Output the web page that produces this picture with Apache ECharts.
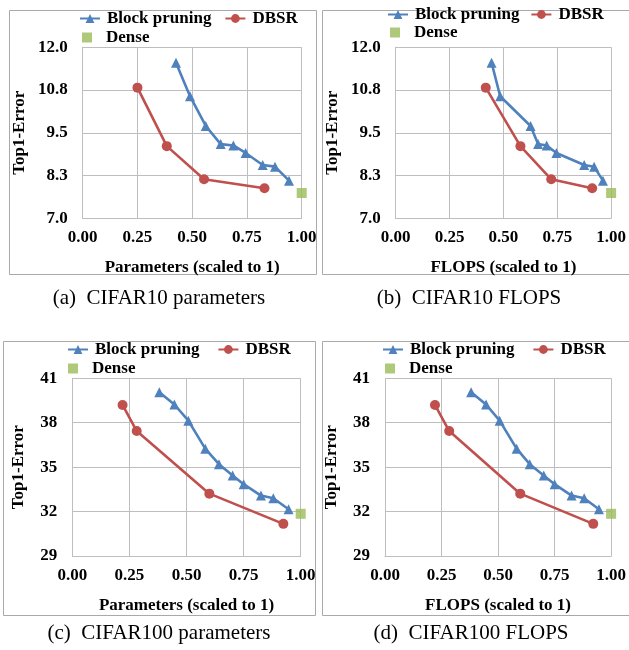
<!DOCTYPE html>
<html>
<head>
<meta charset="utf-8">
<script src="https://cdn.jsdelivr.net/npm/echarts@6/dist/echarts.min.js"></script>
<style>
  html, body { margin: 0; padding: 0; background: #fff; }
  #main { width: 629px; height: 650px; }
</style>
</head>
<body>
<div id="main"></div>
<script>
// top1 error values (shared by params / FLOPS panels)
const cifar10BlockErr = [11.55, 10.57, 9.70, 9.17, 9.13, 8.91, 8.56, 8.51, 8.10];
const cifar10DbsrErr = [10.82, 9.11, 8.14, 7.88];
const cifar10DenseErr = [7.74];
const cifar100BlockErr = [40.06, 39.23, 38.14, 36.25, 35.20, 34.44, 33.85, 33.08, 32.90, 32.16];
const cifar100DbsrErr = [39.20, 37.44, 33.21, 31.17];
const cifar100DenseErr = [31.85];

// x values (scaled to 1)
const c10ParamBlockX = [0.426, 0.490, 0.562, 0.630, 0.688, 0.744, 0.822, 0.878, 0.942];
const c10ParamDbsrX = [0.250, 0.384, 0.554, 0.830];
const c10FlopsBlockX = [0.445, 0.485, 0.626, 0.661, 0.701, 0.746, 0.875, 0.921, 0.962];
const c10FlopsDbsrX = [0.418, 0.579, 0.722, 0.912];
const c100ParamBlockX = [0.381, 0.447, 0.508, 0.582, 0.642, 0.702, 0.750, 0.826, 0.880, 0.947];
const c100ParamDbsrX = [0.220, 0.282, 0.600, 0.924];
const c100FlopsBlockX = [0.381, 0.447, 0.507, 0.582, 0.640, 0.702, 0.750, 0.825, 0.881, 0.946];
const c100FlopsDbsrX = [0.221, 0.284, 0.598, 0.921];
const denseX = [1.0];

const xTicks = ['0.00', '0.25', '0.50', '0.75', '1.00'];
const cifar10Ticks = ['7.0', '8.3', '9.5', '10.8', '12.0'];
const cifar100Ticks = ['29', '32', '35', '38', '41'];

const captions = ['(a)  CIFAR10 parameters', '(b)  CIFAR10 FLOPS', '(c)  CIFAR100 parameters', '(d)  CIFAR100 FLOPS'];
const xTitles = ['Parameters (scaled to 1)', 'FLOPS (scaled to 1)', 'Parameters (scaled to 1)', 'FLOPS (scaled to 1)'];

const blueColor = '#4f81bd';
const redColor = '#c0504d';
const greenColor = '#9bbb59';
const gridColor = '#bebebe';
const serif = 'Liberation Serif';

function pairs(xs, ys) {
  return xs.map(function (x, i) { return [x, ys[i]]; });
}

var dom = document.getElementById('main');
var myChart = echarts.init(dom, null, { renderer: 'canvas' });

var grids = [
  { left: 82.7, top: 47.3, width: 219, height: 171 },
  { left: 395.7, top: 47.3, width: 219.3, height: 171 },
  { left: 72.3, top: 378.3, width: 228.4, height: 177.7 },
  { left: 385, top: 378.3, width: 229, height: 177.7 }
];

var xAxes = grids.map(function (g, i) {
  return {
    gridIndex: i,
    type: 'value',
    min: 0,
    max: 1,
    interval: 0.25,
    name: xTitles[i],
    nameLocation: 'middle',
    nameGap: 41,
    nameTextStyle: { fontFamily: serif, fontWeight: 'bold', fontSize: 17, color: '#000' },
    axisLine: { show: true, lineStyle: { color: gridColor, width: 1 } },
    axisTick: { show: false },
    axisLabel: {
      fontFamily: serif, fontWeight: 'bold', fontSize: 17, color: '#000', margin: 11,
      formatter: function (v) { return xTicks[Math.round(v / 0.25)]; }
    },
    splitLine: { show: true, lineStyle: { color: gridColor, width: 1 } }
  };
});

var yAxes = grids.map(function (g, i) {
  var c10 = i < 2;
  return {
    gridIndex: i,
    type: 'value',
    min: c10 ? 7 : 29,
    max: c10 ? 12 : 41,
    interval: c10 ? 1.25 : 3,
    name: 'Top1-Error',
    nameLocation: 'middle',
    nameGap: c10 ? 55 : 45,
    nameTextStyle: { fontFamily: serif, fontWeight: 'bold', fontSize: 17, color: '#000' },
    axisLine: { show: true, lineStyle: { color: gridColor, width: 1 } },
    axisTick: { show: false },
    axisLabel: {
      fontFamily: serif, fontWeight: 'bold', fontSize: 17, color: '#000', margin: 15,
      formatter: function (v) {
        return c10 ? cifar10Ticks[Math.round((v - 7) / 1.25)] : cifar100Ticks[Math.round((v - 29) / 3)];
      }
    },
    splitLine: { show: true, lineStyle: { color: gridColor, width: 1 } }
  };
});

function lineSeries(name, idx, data, symbol, color) {
  return {
    name: name,
    type: 'line',
    xAxisIndex: idx,
    yAxisIndex: idx,
    data: data,
    symbol: symbol,
    symbolSize: symbol === 'circle' ? 10 : 10,
    color: color,
    itemStyle: { color: color },
    lineStyle: { color: color, width: 2.6 },
    clip: false,
    z: symbol === 'circle' ? 3 : 4
  };
}

function denseSeries(idx, ys) {
  return {
    name: 'Dense',
    type: 'scatter',
    xAxisIndex: idx,
    yAxisIndex: idx,
    data: pairs(denseX, ys),
    symbol: 'rect',
    symbolSize: 10,
    itemStyle: { color: greenColor },
    clip: false
  };
}

var series = [
  lineSeries('Block pruning', 0, pairs(c10ParamBlockX, cifar10BlockErr), 'triangle', blueColor),
  lineSeries('DBSR', 0, pairs(c10ParamDbsrX, cifar10DbsrErr), 'circle', redColor),
  denseSeries(0, cifar10DenseErr),
  lineSeries('Block pruning', 1, pairs(c10FlopsBlockX, cifar10BlockErr), 'triangle', blueColor),
  lineSeries('DBSR', 1, pairs(c10FlopsDbsrX, cifar10DbsrErr), 'circle', redColor),
  denseSeries(1, cifar10DenseErr),
  lineSeries('Block pruning', 2, pairs(c100ParamBlockX, cifar100BlockErr), 'triangle', blueColor),
  lineSeries('DBSR', 2, pairs(c100ParamDbsrX, cifar100DbsrErr), 'circle', redColor),
  denseSeries(2, cifar100DenseErr),
  lineSeries('Block pruning', 3, pairs(c100FlopsBlockX, cifar100BlockErr), 'triangle', blueColor),
  lineSeries('DBSR', 3, pairs(c100FlopsDbsrX, cifar100DbsrErr), 'circle', redColor),
  denseSeries(3, cifar100DenseErr)
];

// legend positions for each panel: [row1 left, row1 top, gap, dense left, dense top]
var legendPos = [
  [79, 10, 13, 82, 29],
  [387, 6, 11, 390, 24],
  [67, 341, 18, 68, 360],
  [382, 341, 18, 385, 360]
];

var legends = [];
legendPos.forEach(function (p) {
  legends.push({
    left: p[0], top: p[1], itemGap: p[2],
    itemWidth: 20, itemHeight: 11, padding: 0,
    selectedMode: false,
    data: ['Block pruning', 'DBSR'],
    textStyle: { fontFamily: serif, fontWeight: 'bold', fontSize: 17, color: '#000', padding: [0, 0, 0, 2] }
  });
  legends.push({
    left: p[3], top: p[4],
    itemWidth: 10, itemHeight: 10, padding: 0,
    selectedMode: false,
    data: [{ name: 'Dense', icon: 'rect' }],
    textStyle: { fontFamily: serif, fontWeight: 'bold', fontSize: 17, color: '#000', padding: [0, 0, 0, 9] }
  });
});

var boxes = [[9, 10, 307, 264], [322, 10, 320, 264], [3, 341, 312, 274], [322, 341, 320, 274]];
var captionPos = [[159, 298], [469, 298], [159, 633], [471, 633]];

var graphics = [];
boxes.forEach(function (b) {
  graphics.push({
    type: 'rect', silent: true, z: -1,
    shape: { x: b[0] + 0.5, y: b[1] + 0.5, width: b[2], height: b[3] },
    style: { fill: null, stroke: '#a9a9a9', lineWidth: 1 }
  });
});
captionPos.forEach(function (c, i) {
  graphics.push({
    type: 'text', silent: true,
    x: c[0], y: c[1],
    style: {
      text: captions[i], fontFamily: serif, fontSize: 21, fill: '#000',
      textAlign: 'center', textVerticalAlign: 'middle'
    }
  });
});

var option = {
  backgroundColor: '#fff',
  animation: false,
  grid: grids,
  xAxis: xAxes,
  yAxis: yAxes,
  legend: legends,
  series: series,
  graphic: graphics
};

if (option && typeof option === 'object') {
  myChart.setOption(option);
}

window.addEventListener('resize', myChart.resize);
</script>
</body>
</html>
